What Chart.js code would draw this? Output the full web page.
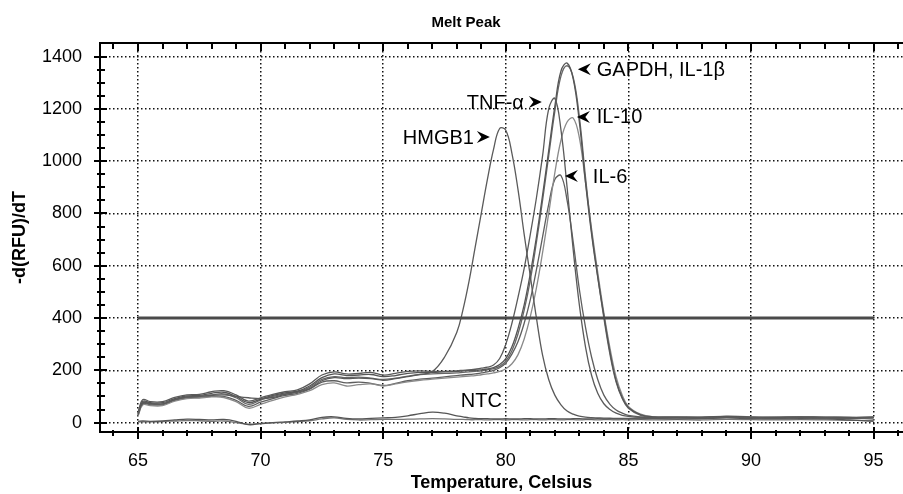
<!DOCTYPE html>
<html>
<head>
<meta charset="utf-8">
<script src="https://cdn.jsdelivr.net/npm/chart.js@4"></script>
<style>
  body { margin: 0; background: #fff; }
  canvas { display: block; }
</style>
</head>
<body>
<canvas id="chart" width="903" height="494"></canvas>
<script>
const temps = [
  65, 65.2, 65.5, 66, 66.5, 67, 67.5, 68, 68.5, 69,
  69.5, 70, 70.5, 71, 71.5, 72, 72.5, 73, 73.5, 74,
  74.5, 75, 75.5, 76, 76.5, 77, 77.5, 78, 78.25, 78.5,
  78.75, 79, 79.25, 79.5, 79.75, 80, 80.25, 80.5, 80.75, 81,
  81.25, 81.5, 81.75, 82, 82.25, 82.5, 82.75, 83, 83.25, 83.5,
  83.75, 84, 84.25, 84.5, 84.75, 85, 85.5, 86, 87, 88,
  89, 90, 91, 92, 93, 94, 95,
];

const tnfAlpha = [
  40, 88, 80, 80, 96, 106, 108, 118, 122, 106,
  82, 95, 108, 118, 125, 148, 182, 194, 186, 188,
  192, 182, 188, 196, 198, 196, 196, 198, 200, 202,
  204, 208, 212, 220, 245, 300, 380, 480, 590, 720,
  860, 1020, 1200, 1240, 1120, 900, 660, 450, 290, 180,
  112, 72, 50, 36, 28, 24, 20, 19, 20, 18,
  22, 20, 18, 20, 19, 18, 20,
];
const gapdh = [
  35, 82, 76, 76, 92, 102, 104, 112, 116, 100,
  76, 90, 104, 114, 120, 140, 172, 186, 180, 182,
  184, 176, 180, 188, 192, 192, 194, 196, 198, 200,
  200, 202, 205, 210, 222, 245, 290, 360, 450, 570,
  710, 870, 1040, 1210, 1345, 1375, 1315, 1150, 920, 720,
  555, 410, 270, 160, 95, 58, 30, 22, 21, 20,
  24, 21, 20, 22, 20, 20, 22,
];
const il1b = [
  32, 78, 72, 72, 88, 98, 100, 106, 110, 95,
  70, 86, 100, 110, 118, 135, 165, 176, 172, 174,
  170, 165, 170, 178, 184, 186, 188, 190, 192, 194,
  196, 198, 202, 206, 215, 235, 275, 340, 430, 545,
  690, 850, 1020, 1190, 1325, 1365, 1320, 1170, 940, 730,
  560, 400, 260, 155, 92, 55, 28, 20, 19, 21,
  22, 19, 21, 20, 21, 19, 20,
];
const hmgb1 = [
  30, 75, 72, 72, 88, 98, 100, 104, 106, 100,
  95, 92, 96, 108, 116, 130, 160, 172, 168, 170,
  168, 162, 168, 176, 184, 195, 250, 345, 430, 540,
  670, 800, 930, 1045, 1125, 1118, 1030, 890, 720, 560,
  400, 258, 165, 105, 68, 44, 32, 25, 21, 19,
  18, 17, 17, 16, 16, 16, 17, 16, 18, 16,
  20, 18, 16, 18, 17, 16, 18,
];
const il6 = [
  28, 72, 68, 68, 85, 95, 96, 100, 100, 85,
  62, 78, 92, 104, 112, 128, 155, 160, 152, 155,
  150, 142, 150, 160, 166, 170, 175, 180, 182, 184,
  186, 190, 194, 200, 210, 228, 262, 310, 380, 470,
  585, 710, 835, 930, 945, 850, 690, 510, 365, 250,
  165, 105, 70, 48, 36, 28, 22, 20, 20, 19,
  21, 20, 19, 20, 19, 19, 18,
];
const il10 = [
  25, 68, 65, 65, 82, 92, 94, 98, 96, 80,
  55, 70, 85, 98, 108, 122, 145, 152, 140, 145,
  148, 140, 148, 156, 162, 166, 170, 174, 176, 178,
  180, 183, 186, 190, 196, 206, 225, 260, 320, 405,
  515, 650, 800, 955, 1080, 1150, 1165, 1090, 920, 740,
  575, 420, 285, 175, 105, 62, 32, 23, 22, 21,
  25, 22, 21, 22, 21, 21, 12,
];
const ntc1 = [
  5, 6, 5, 6, 10, 13, 12, 10, 12, 5,
  -8, -4, 0, 3, 6, 10, 20, 22, 16, 14,
  16, 18, 20, 26, 34, 40, 36, 26, 22, 18,
  16, 15, 15, 14, 14, 15, 14, 14, 15, 15,
  14, 14, 15, 15, 14, 14, 15, 15, 14, 14,
  15, 14, 15, 14, 15, 14, 14, 15, 14, 15,
  18, 15, 14, 15, 14, 10, 5,
];
const ntc2 = [
  2, 3, 3, 4, 6, 8, 7, 5, 6, 0,
  -6, -3, -1, 1, 4, 7, 14, 18, 12, 10,
  11, 12, 12, 13, 14, 15, 14, 12, 12, 11,
  11, 11, 10, 11, 11, 10, 11, 11, 10, 11,
  11, 10, 11, 11, 10, 11, 11, 10, 11, 11,
  10, 11, 11, 10, 11, 10, 11, 10, 11, 10,
  12, 11, 10, 11, 10, 9, 8,
];

const thresholdTemps = [65, 95];
const thresholdLevel = [400, 400];

const xTickLabels = [65, 70, 75, 80, 85, 90, 95];
const yTickLabels = [0, 200, 400, 600, 800, 1000, 1200, 1400];

// arrow tip / text anchor in data units, dir -1 = arrow points left
const peakLabels = [
  { text: "GAPDH, IL-1\u03b2", tip: 82.94, textAt: 83.71, y: 1352, dir: -1 },
  { text: "TNF-\u03b1", tip: 81.47, textAt: 80.74, y: 1226, dir: 1 },
  { text: "IL-10", tip: 82.9, textAt: 83.71, y: 1169, dir: -1 },
  { text: "HMGB1", tip: 79.35, textAt: 78.7, y: 1092, dir: 1 },
  { text: "IL-6", tip: 82.41, textAt: 83.55, y: 943, dir: -1 },
  { text: "NTC", tip: null, textAt: 79.0, y: 85, dir: 0 },
];

const FONT = "'Liberation Sans', Arial, sans-serif";
Chart.defaults.font.family = FONT;
Chart.defaults.color = "#000";

function curve(label, values, color) {
  return {
    label: label,
    data: temps.map((t, i) => ({ x: t, y: values[i] })),
    borderColor: color,
    borderWidth: 1.3,
    pointRadius: 0,
    tension: 0.4,
    fill: false,
  };
}

const datasets = [
  {
    label: "threshold",
    data: thresholdTemps.map((t, i) => ({ x: t, y: thresholdLevel[i] })),
    borderColor: "#4a4a4a",
    borderWidth: 3,
    pointRadius: 0,
    tension: 0,
  },
  curve("HMGB1", hmgb1, "#5a5a5a"),
  curve("TNF-a", tnfAlpha, "#5a5a5a"),
  curve("GAPDH", gapdh, "#555"),
  curve("IL-1b", il1b, "#666"),
  curve("IL-10", il10, "#8a8a8a"),
  curve("IL-6", il6, "#5e5e5e"),
  curve("NTC 1", ntc1, "#555"),
  curve("NTC 2", ntc2, "#777"),
];

// frame line on top plus the crossing tick marks of both axes
const axisMarks = {
  id: "axisMarks",
  afterDraw(chart) {
    const { ctx, chartArea: a } = chart;
    const x = chart.scales.x;
    const y = chart.scales.y;
    ctx.save();
    ctx.strokeStyle = "#000";
    ctx.lineWidth = 2;
    ctx.beginPath();
    ctx.moveTo(a.left, a.top);
    ctx.lineTo(a.right, a.top);
    ctx.stroke();
    ctx.beginPath();
    for (let t = 64; t <= 96; t++) {
      const px = Math.round(x.getPixelForValue(t));
      const major = t % 5 === 0;
      ctx.moveTo(px, a.bottom - (major ? 5 : 2));
      ctx.lineTo(px, a.bottom + (major ? 7 : 4));
      ctx.moveTo(px, a.top);
      ctx.lineTo(px, a.top + (major ? 8 : 6));
    }
    for (let v = 0; v <= 1400; v += 50) {
      const py = Math.round(y.getPixelForValue(v));
      const major = v % 200 === 0;
      ctx.moveTo(a.left - (major ? 6 : 3), py);
      ctx.lineTo(a.left + (major ? 7 : 5), py);
    }
    ctx.stroke();

    ctx.fillStyle = "#000";
    ctx.font = "bold 15px " + FONT;
    ctx.textAlign = "center";
    ctx.textBaseline = "middle";
    ctx.fillText("Melt Peak", 466, 23);
    ctx.restore();
  },
};

const peakMarks = {
  id: "peakMarks",
  afterDatasetsDraw(chart) {
    const { ctx } = chart;
    const x = chart.scales.x;
    const y = chart.scales.y;
    ctx.save();
    ctx.fillStyle = "#000";
    ctx.font = "20px " + FONT;
    ctx.textBaseline = "middle";
    peakLabels.forEach((l) => {
      const py = y.getPixelForValue(l.y);
      const tx = x.getPixelForValue(l.textAt);
      ctx.textAlign = l.dir < 0 ? "left" : l.dir > 0 ? "right" : "center";
      ctx.fillText(l.text, tx, py + 1);
      if (l.tip !== null) {
        const px = x.getPixelForValue(l.tip);
        const w = 13, h = 6;
        ctx.beginPath();
        ctx.moveTo(px, py);
        ctx.lineTo(px - l.dir * w, py - h);
        ctx.lineTo(px - l.dir * w * 0.65, py);
        ctx.lineTo(px - l.dir * w, py + h);
        ctx.closePath();
        ctx.fill();
      }
    });
    ctx.restore();
  },
};

new Chart(document.getElementById("chart"), {
  type: "line",
  data: { datasets: datasets },
  options: {
    responsive: false,
    animation: false,
    layout: { padding: { top: 43, left: 0, right: 0, bottom: 0 } },
    plugins: {
      legend: { display: false },
      tooltip: { enabled: false },
      title: { display: false },
    },
    scales: {
      x: {
        type: "linear",
        min: 63.45,
        max: 96.2,
        afterFit: (s) => { s.height = 62; },
        afterBuildTicks: (s) => { s.ticks = xTickLabels.map((v) => ({ value: v })); },
        ticks: { font: { size: 18 }, padding: 18, color: "#000", callback: (v) => String(v) },
        grid: { color: "#111", lineWidth: 1.5, drawTicks: false },
        border: { display: true, color: "#000", width: 2, dash: [1.5, 2.5] },
        title: {
          display: true,
          text: "Temperature, Celsius",
          font: { size: 18, weight: "bold" },
          padding: 0,
          color: "#000",
        },
      },
      y: {
        min: -36,
        max: 1452,
        afterFit: (s) => { s.width = 100; },
        afterBuildTicks: (s) => { s.ticks = yTickLabels.map((v) => ({ value: v })); },
        ticks: { font: { size: 18 }, padding: 18, color: "#000", callback: (v) => String(v) },
        grid: { color: "#111", lineWidth: 1.5, drawTicks: false },
        border: { display: true, color: "#000", width: 2, dash: [1.5, 2.5] },
        title: {
          display: true,
          text: "-d(RFU)/dT",
          font: { size: 18, weight: "bold" },
          padding: { top: 9, bottom: 0 },
          color: "#000",
        },
      },
    },
  },
  plugins: [axisMarks, peakMarks],
});
</script>
</body>
</html>
